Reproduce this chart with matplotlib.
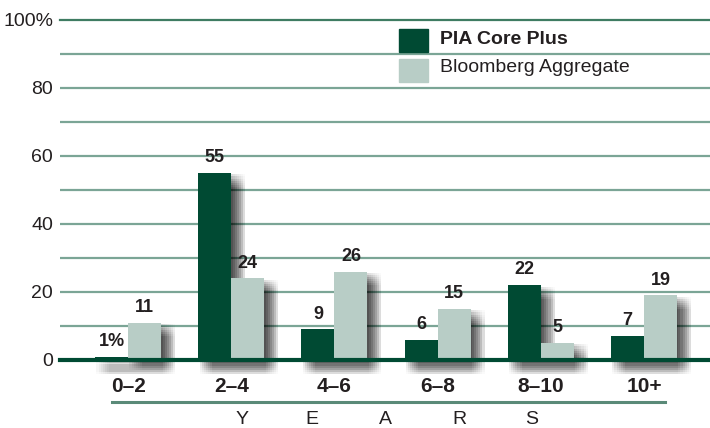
import matplotlib
matplotlib.use("Agg")
import matplotlib.pyplot as plt
import matplotlib.patheffects as pe
from matplotlib.patches import Rectangle
import numpy as np

categories = ["0–2", "2–4", "4–6", "6–8", "8–10", "10+"]
pia = [1, 55, 9, 6, 22, 7]
bloomberg = [11, 24, 26, 15, 5, 19]
pia_labels = ["1%", "55", "9", "6", "22", "7"]
bloom_labels = ["11", "24", "26", "15", "5", "19"]
series_names = ["PIA Core Plus", "Bloomberg Aggregate"]
ytick_vals = [0, 20, 40, 60, 80, 100]
ytick_labels = ["0", "20", "40", "60", "80", "100%"]
axis_word = "YEARS"

DARK = "#004a33"
LIGHT = "#b8cdc6"
GRID = "#7ba596"
TXT = "#231f20"

plt.rcParams['font.family'] = ['Liberation Sans', 'DejaVu Sans']

W, H = 710, 428
fig = plt.figure(figsize=(W / 100, H / 100), dpi=100)
ax = fig.add_axes([60 / W, (H - 360) / H, 650 / W, 340 / H])

x = np.arange(len(categories))
bw = 0.32
ax.set_xlim(-0.66, 5.64)
ax.set_ylim(0, 100)

# soft blurred shadow via stacked path effects
shadow = []
for dx in np.linspace(1.0, 10.0, 7):
    for dy in np.linspace(1.0, 10.0, 7):
        shadow.append(pe.SimplePatchShadow(offset=(dx, -dy), shadow_rgbFace="black", alpha=0.018))
shadow.append(pe.Normal())

b1 = ax.bar(x - bw / 2, pia, bw, color=DARK, zorder=3, clip_on=False)
b2 = ax.bar(x + bw / 2, bloomberg, bw, color=LIGHT, zorder=3, clip_on=False)
for b in list(b1) + list(b2):
    b.set_path_effects(shadow)

for xi, v, lab in zip(x, pia, pia_labels):
    ax.text(xi - bw / 2, v + 2.0, lab, ha="center", va="bottom", fontsize=13,
            fontweight="bold", color=TXT, zorder=5)
for xi, v, lab in zip(x, bloomberg, bloom_labels):
    ax.text(xi + bw / 2, v + 2.0, lab, ha="center", va="bottom", fontsize=13,
            fontweight="bold", color=TXT, zorder=5)

# grid
ax.set_yticks(ytick_vals)
ax.set_yticklabels(ytick_labels, fontsize=14, color=TXT)
ax.tick_params(axis="y", which="both", length=0, pad=5)
for yv in np.arange(10, 100, 10):
    ax.axhline(yv, color=GRID, lw=1.6, zorder=1)
ax.axhline(100, color="#3f7c62", lw=1.6, zorder=1, clip_on=False)
ax.axhline(0, color=DARK, lw=3, zorder=4, clip_on=False)

ax.set_xticks(x)
ax.set_xticklabels(categories, fontsize=15, fontweight="bold", color=TXT)
ax.tick_params(axis="x", length=0, pad=12)
for s in ax.spines.values():
    s.set_visible(False)

# underline and YEARS
fig.add_artist(plt.Line2D([112 / W, 665 / W], [(H - 402) / H] * 2, color="#5a8a78", lw=2.2))
letter_x = [242, 312, 385, 459, 532]
for ch, lx in zip(axis_word, letter_x):
    fig.text(lx / W, (H - 420) / H, ch, ha="center", va="center", fontsize=14, color=TXT)

# legend
fig.add_artist(Rectangle((399 / W, (H - 52) / H), 29 / W, 23 / H, color=DARK, transform=fig.transFigure))
fig.add_artist(Rectangle((399 / W, (H - 82) / H), 29 / W, 23 / H, color=LIGHT, transform=fig.transFigure))
fig.text(440 / W, (H - 39) / H, series_names[0], fontsize=14, fontweight="bold", color=TXT, va="center")
fig.text(440 / W, (H - 68) / H, series_names[1], fontsize=14, color=TXT, va="center")

fig.savefig("out.png", dpi=100)
